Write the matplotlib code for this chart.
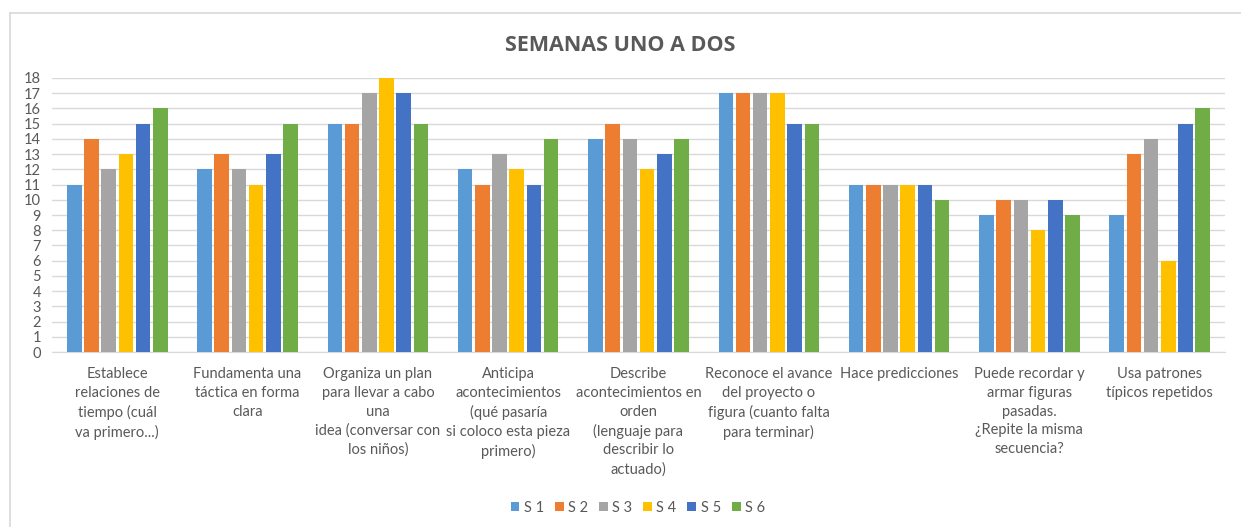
import numpy as np
import matplotlib
matplotlib.use("Agg")
import matplotlib.pyplot as plt
from matplotlib.lines import Line2D

plt.rcParams['font.family'] = ['Lato', 'DejaVu Sans']

categories = [
    "Establece\nrelaciones de\ntiempo (cuál\nva primero...)",
    "Fundamenta una\ntáctica en forma\nclara",
    "Organiza un plan\npara llevar a cabo\nuna\nidea (conversar con\nlos niños)",
    "Anticipa\nacontecimientos\n(qué pasaría\nsi coloco esta pieza\nprimero)",
    "Describe\nacontecimientos en\norden\n(lenguaje para\ndescribir lo\nactuado)",
    "Reconoce el avance\ndel proyecto o\nfigura (cuanto falta\npara terminar)",
    "Hace predicciones",
    "Puede recordar y\narmar figuras\npasadas.\n¿Repite la misma\nsecuencia?",
    "Usa patrones\ntípicos repetidos",
]
series_names = ["S 1", "S 2", "S 3", "S 4", "S 5", "S 6"]
s1 = [11, 12, 15, 12, 14, 17, 11, 9, 9]
s2 = [14, 13, 15, 11, 15, 17, 11, 10, 13]
s3 = [12, 12, 17, 13, 14, 17, 11, 10, 14]
s4 = [13, 11, 18, 12, 12, 17, 11, 8, 6]
s5 = [15, 13, 17, 11, 13, 15, 11, 10, 15]
s6 = [16, 15, 15, 14, 14, 15, 10, 9, 16]
colors = ["#5b9bd5", "#ed7d31", "#a5a5a5", "#ffc000", "#4472c4", "#70ad47"]

text_col = "#595959"
fig = plt.figure(figsize=(12.41, 5.27), dpi=100)
ax = fig.add_axes([0.042, 0.332, 0.945, 0.52])

x = np.arange(len(categories))
step = 0.132
width = 0.112
for i, (vals, name) in enumerate(zip([s1, s2, s3, s4, s5, s6], series_names)):
    ax.bar(x + (i - 2.5) * step, vals, width, color=colors[i], label=name, zorder=3)

ax.set_xlim(-0.5, len(categories) - 0.5)
ax.set_ylim(0, 18)
ax.set_yticks(range(0, 19))
ax.tick_params(axis='y', length=0, labelsize=10.5, labelcolor=text_col, pad=8)
ax.set_xticks(x)
ax.set_xticklabels(categories, fontsize=10.5, color=text_col, linespacing=1.42)
ax.tick_params(axis='x', length=0, pad=11)
ax.grid(axis='y', color="#d9d9d9", linewidth=1, zorder=0)
for side in ['top', 'right', 'left']:
    ax.spines[side].set_visible(False)
ax.spines['bottom'].set_color("#d9d9d9")

fig.text(0.5, 0.913, "SEMANAS UNO A DOS", ha='center', va='center',
         fontsize=15.5, fontweight='bold', color=text_col, family=['Open Sans', 'DejaVu Sans'])

fig.legend(loc='center', bbox_to_anchor=(0.514, 0.037), ncol=6, frameon=False,
           fontsize=10.5, handlelength=0.6, handleheight=0.6, handletextpad=0.3,
           columnspacing=0.75, labelcolor=text_col)

# chart border
fig.add_artist(Line2D([10 / 1241, 10 / 1241], [0, 1 - 13 / 527], color="#d9d9d9", lw=1.2))
fig.add_artist(Line2D([10 / 1241, 1], [1 - 13 / 527, 1 - 13 / 527], color="#d9d9d9", lw=1.2))

fig.savefig("out.png", dpi=100)
